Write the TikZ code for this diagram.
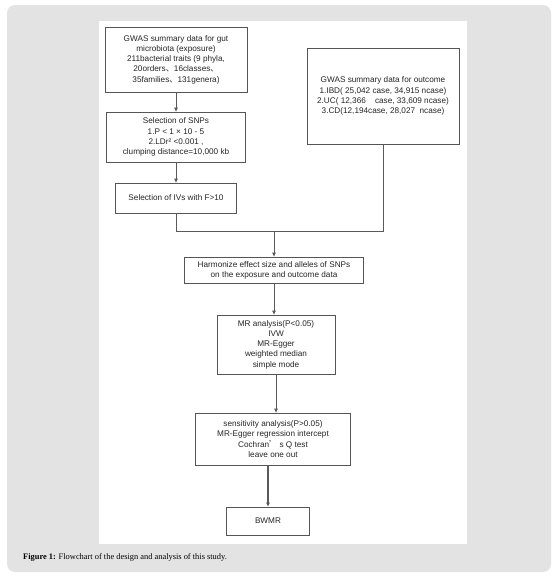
\documentclass[tikz,border=0pt]{standalone}
\usepackage{fontspec}
\setmainfont{Liberation Sans}
\newfontfamily\capfont{Liberation Serif}
\newfontfamily\cjk{Noto Sans CJK SC}
\usetikzlibrary{arrows.meta}
\definecolor{bggrey}{HTML}{E3E3E3}
\definecolor{boxline}{HTML}{555555}
\definecolor{conline}{HTML}{5A5A5A}
\begin{document}
\begin{tikzpicture}[x=1bp,y=-1bp,
  flowbox/.style={draw=boxline,line width=0.8bp,fill=white,align=center,
    font=\fontsize{8.2bp}{10.2bp}\selectfont,inner sep=1bp,text=black!85},
  conn/.style={draw=conline,line width=0.8bp},
  arr/.style={conn,-{Triangle[length=4bp,width=3.5bp]}}]
\useasboundingbox (0,0) rectangle (558,576);
\fill[bggrey,rounded corners=8bp] (7,5) rectangle (551,572);
\fill[white] (99,21) rectangle (467,544);

\node[flowbox,minimum width=142bp,minimum height=65bp] (b1) at (176,59.5)
  {GWAS summary data for gut\\microbiota (exposure)\\211bacterial traits (9 phyla,\\20orders{\cjk 、}16classes{\cjk 、}\\35families{\cjk 、}131genera)};
\node[flowbox,minimum width=139bp,minimum height=50bp] (b2) at (176,137)
  {Selection of SNPs\\1.P < 1 × 10 - 5\\2.LDr² <0.001 ,\\clumping distance=10,000 kb};
\node[flowbox,minimum width=121bp,minimum height=30bp] (b3) at (176,198)
  {Selection of IVs with F>10};
\node[flowbox,minimum width=152bp,minimum height=96bp] (out) at (383,96)
  {GWAS summary data for outcome\\1.IBD( 25,042 case, 34,915 ncase)\\2.UC( 12,366 \ \ \ case, 33,609 ncase)\\3.CD(12,194case, 28,027 \ ncase)};
\node[flowbox,minimum width=179bp,minimum height=26bp] (harm) at (274,270)
  {Harmonize effect size and alleles of SNPs\\on the exposure and outcome data};
\node[flowbox,minimum width=118bp,minimum height=59bp] (mr) at (276,344.5)
  {MR analysis(P<0.05)\\IVW\\MR-Egger\\weighted median\\simple mode};
\node[flowbox,minimum width=155bp,minimum height=52bp] (sens) at (273,439)
  {sensitivity analysis(P>0.05)\\MR-Egger regression intercept\\Cochran{\cjk ’} s Q test\\leave one out};
\node[flowbox,minimum width=83bp,minimum height=28bp] (bw) at (268,521) {BWMR};

\coordinate (jl) at (176,231);
\coordinate (jr) at (383,231);
\coordinate (jm) at (274,231);

\draw[arr] (b1.south) -- (b2.north);
\draw[arr] (b2.south) -- (b3.north);
\draw[conn] (b3.south) -- (jl) -- (jr) -- (out.south);
\draw[arr] (jm) -- (jm|-harm.north);
\draw[arr] (harm.south) -- (harm.south|-mr.north);
\draw[arr] (mr.south) -- (mr.south|-sens.north);
\draw[arr,line width=1.3bp] (bw.north|-sens.south) -- (bw.north);

\node[anchor=base west,inner sep=0,font=\capfont\fontsize{8.4bp}{10bp}\selectfont] (cap) at (23,559)
  {\textbf{Figure 1:} Flowchart of the design and analysis of this study.};
\end{tikzpicture}
\end{document}
